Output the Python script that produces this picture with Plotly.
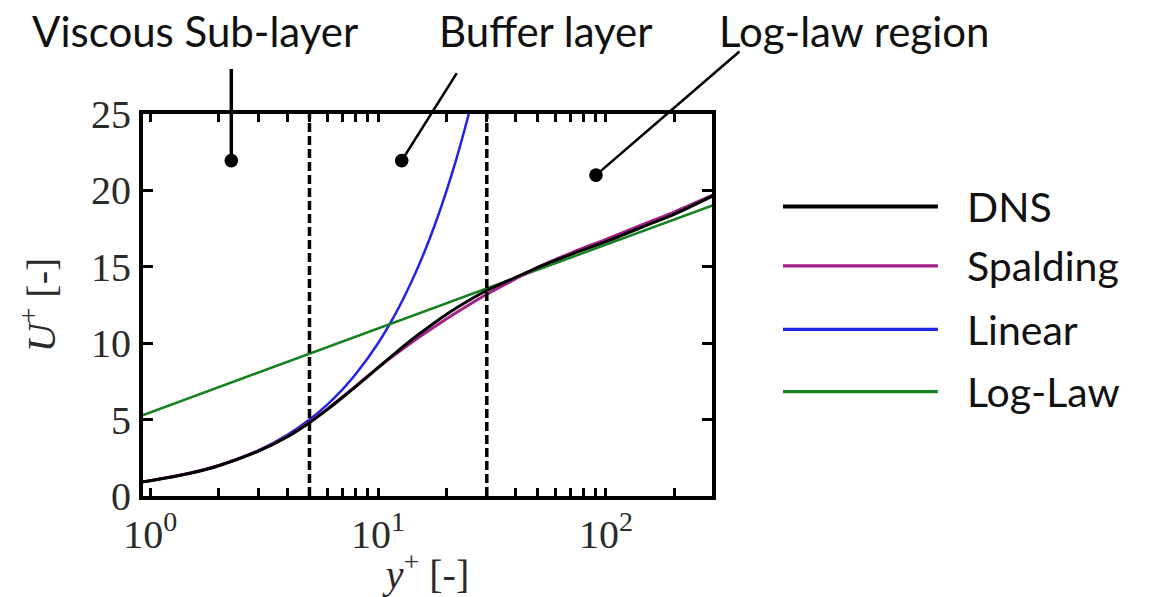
import math
import plotly.graph_objects as go

# ---------------- data ----------------
yplus_dns = [0.9, 1, 1.5, 2, 3, 4, 5, 6, 7, 8, 10, 12, 15, 20, 25, 30, 40, 50, 70, 100, 150, 200, 300]
u_dns = [0.9, 1.0, 1.49, 1.98, 2.95, 3.88, 4.8, 5.67, 6.46, 7.17, 8.4, 9.4, 10.55, 11.9, 12.8,
         13.45, 14.3, 14.95, 15.8, 16.65, 17.7, 18.45, 19.7]

yplus_spalding = [0.9, 1, 1.5, 2, 3, 4, 5, 6, 7, 8, 10, 12, 15, 20, 25, 30, 40, 50, 70, 100, 150, 200, 300]
u_spalding = [0.9, 1.0, 1.5, 2.0, 2.97, 3.9, 4.85, 5.7, 6.5, 7.2, 8.4, 9.3, 10.35, 11.6, 12.5,
              13.2, 14.2, 14.95, 15.9, 16.8, 17.85, 18.6, 19.75]

yplus_linear = [0.9, 1, 1.5, 2, 3, 4, 5, 6, 7, 8, 10, 12, 14, 16, 18, 20, 22, 24, 26]
u_linear = [0.9, 1, 1.5, 2, 3, 4, 5, 6, 7, 8, 10, 12, 14, 16, 18, 20, 22, 24, 26]

yplus_loglaw = [0.9, 300]
u_loglaw = [5.22, 19.07]

region_bounds = [5, 30]
u_bounds = [0, 25]

series_names = ["DNS", "Spalding", "Linear", "Log-Law"]
region_labels = ["Viscous Sub-layer", "Buffer layer", "Log-law region"]
region_points_x = [2.27, 12.7, 90.4]
region_points_y = [21.95, 21.95, 21.0]

x_major = [1, 10, 100]
x_major_text = ["10<sup>0</sup>", "10<sup>1</sup>", "10<sup>2</sup>"]
x_minor = [2, 3, 4, 5, 6, 7, 8, 9, 20, 30, 40, 50, 60, 70, 80, 90, 200]
y_ticks = [0, 5, 10, 15, 20, 25]

# ---------------- styles ----------------
colors = {"DNS": "#000000", "Spalding": "#a3208a", "Linear": "#2323e6", "Log-Law": "#17801f"}
widths = {"DNS": 3, "Spalding": 3, "Linear": 2.5, "Log-Law": 2.5}
SERIF = "Liberation Serif"
SANS = "Lato"

fig = go.Figure()

data_map = {
    "Linear": (yplus_linear, u_linear),
    "Log-Law": (yplus_loglaw, u_loglaw),
    "Spalding": (yplus_spalding, u_spalding),
    "DNS": (yplus_dns, u_dns),
}
for name in ["Linear", "Log-Law", "Spalding", "DNS"]:
    xs, ys = data_map[name]
    fig.add_trace(go.Scatter(x=xs, y=ys, mode="lines", name=name, showlegend=False,
                             line=dict(color=colors[name], width=widths[name],
                                       shape="spline", smoothing=0.8)))

for xb in region_bounds:
    fig.add_trace(go.Scatter(x=[xb, xb], y=u_bounds, mode="lines", showlegend=False,
                             line=dict(color="black", width=3.5, dash="9px,4px")))

# ticks (major labelled, minor blank)
all_ticks = sorted(x_major + x_minor)
all_text = [x_major_text[x_major.index(v)] if v in x_major else "" for v in all_ticks]

fig.update_xaxes(type="log", range=[math.log10(0.93), math.log10(292)],
                 tickvals=all_ticks, ticktext=all_text,
                 ticks="inside", ticklen=8, tickwidth=3, tickcolor="black",
                 showline=True, linewidth=4, linecolor="black", mirror="ticks",
                 showgrid=False, zeroline=False,
                 tickfont=dict(family=SERIF, size=40, color="#2a2a2a"),
                 title=dict(text="<i>y</i><sup>+</sup> [-]", standoff=0,
                            font=dict(family=SERIF, size=40, color="#2a2a2a")))
fig.update_yaxes(range=[0, 25], tickvals=y_ticks,
                 ticks="inside", ticklen=10, tickwidth=3, tickcolor="black",
                 showline=True, linewidth=4, linecolor="black", mirror="ticks",
                 showgrid=False, zeroline=False,
                 tickfont=dict(family=SERIF, size=40, color="#2a2a2a"),
                 title=dict(text="<i>U</i><sup>+</sup> [-]", standoff=24,
                            font=dict(family=SERIF, size=40, color="#2a2a2a")))

# region labels and pointers
label_pos = [(0.0914, 1.218), (0.708, 1.218), (1.2513, 1.218)]
pointer_offsets = [(0, -93), (56, -89), (145, -125)]
pointer_widths = [3.5, 2.6, 2.6]
for lbl, (px, py), xp, yp, (ax, ay), pw in zip(region_labels, label_pos, region_points_x,
                                               region_points_y, pointer_offsets, pointer_widths):
    fig.add_annotation(x=px, y=py, xref="paper", yref="paper", text=lbl, showarrow=False,
                       xanchor="center", yanchor="middle",
                       font=dict(family=SANS, size=42, color="#111111"))
    fig.add_annotation(x=math.log10(xp), y=yp, xref="x", yref="y", text="",
                       showarrow=True, arrowhead=6, arrowsize=3.4 / pw,
                       arrowwidth=pw, arrowcolor="black", ax=ax, ay=ay, standoff=0)

# manual legend with long swatches
legend_rows = [0.758, 0.6026, 0.436, 0.273]
for name, ly in zip(series_names, legend_rows):
    fig.add_shape(type="line", xref="paper", yref="paper", x0=1.1248, x1=1.397, y0=ly, y1=ly,
                  line=dict(color=colors[name], width=4 if name == "DNS" else 3.2))
    fig.add_annotation(x=1.4446, y=ly, xref="paper", yref="paper", text=name, showarrow=False,
                       xanchor="left", yanchor="middle",
                       font=dict(family=SANS, size=41, color="#111111"))

fig.update_layout(width=1150, height=597, autosize=False,
                  margin=dict(l=143, r=438, t=114, b=98),
                  plot_bgcolor="white", paper_bgcolor="white", showlegend=False)

fig.write_html("out.html", config={"displayModeBar": False},
               post_script="document.body.style.margin='0';document.body.style.overflow='hidden';")
